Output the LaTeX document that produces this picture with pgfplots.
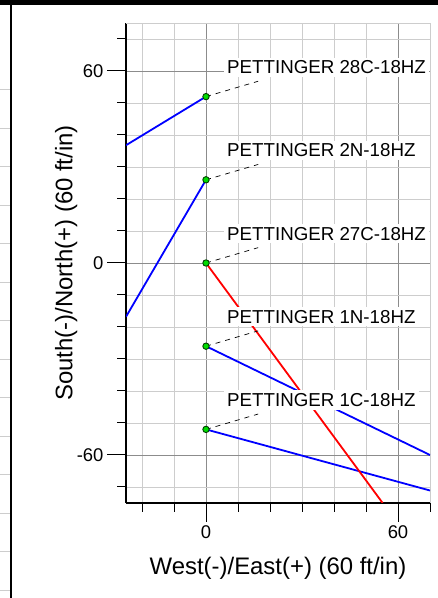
\documentclass[border=0pt]{standalone}
\usepackage{pgfplots}
\pgfplotsset{compat=1.18}
\usepackage{fontspec}
\setmainfont{Liberation Sans}
\definecolor{lineblue}{RGB}{0,0,255}
\definecolor{linered}{RGB}{255,0,0}
\definecolor{markgreen}{RGB}{0,220,0}
\definecolor{minorgrid}{RGB}{205,205,205}
\definecolor{majorgrid}{RGB}{140,140,140}
\begin{document}
\begin{tikzpicture}
\useasboundingbox (0,0) rectangle (438bp,598bp);
% sheet frame around the panel
\fill[black] (0,593bp) rectangle (438bp,598bp);
\draw[line width=2.2bp] (11bp,0) -- (11bp,598bp);
\foreach \y in {90,129,167,206,244,283,321,360,398,437,475,514,552,591}
  \draw[minorgrid, line width=1bp] (0,598bp-\y bp) -- (10bp,598bp-\y bp);
\begin{axis}[
  at={(126bp,95bp)}, anchor=south west,
  scale only axis, width=304bp, height=480bp,
  xmin=-25, xmax=70, ymin=-75, ymax=75,
  xtick={0,60}, xticklabels={0,60},
  ytick={-60,0,60}, yticklabels={-60,0,60},
  minor xtick={-20,-10,10,20,30,40,50,70},
  minor ytick={-70,-50,-40,-30,-20,-10,10,20,30,40,50,70},
  grid=both,
  major grid style={majorgrid, line width=0.8bp},
  minor grid style={minorgrid, line width=0.8bp},
  axis x line*=bottom, axis y line*=left,
  axis line style={black, line width=2bp},
  tick align=outside,
  major tick length=19bp, minor tick length=9bp,
  tick style={black, line width=1bp},
  ticklabel style={font=\fontsize{18.5}{22}\selectfont},
  xlabel={West(-)/East(+) (60 ft/in)},
  ylabel={South(-)/North(+) (60 ft/in)},
  label style={font=\fontsize{24}{28}\selectfont},
  xlabel style={at={(axis description cs:0.5,-0.137)}, anchor=center},
  ylabel style={at={(axis description cs:-0.197,0.5)}, anchor=center},
  every axis plot/.append style={line width=1.8bp},
]
% well labels (white boxes under the paths)
\addplot[draw=none, mark=none, point meta=explicit symbolic, nodes near coords,
  nodes near coords style={anchor=west, yshift=0pt, fill=white, inner sep=3bp,
    font=\fontsize{18.8}{22}\selectfont}]
  coordinates {(5.4,61.2) [PETTINGER 28C-18HZ] (5.4,35.2) [PETTINGER 2N-18HZ]
    (5.4,9.2) [PETTINGER 27C-18HZ] (5.4,-16.8) [PETTINGER 1N-18HZ]
    (5.4,-42.8) [PETTINGER 1C-18HZ]};
% well paths
\addplot[lineblue] coordinates {(-25,36.8) (0,52)};   % 28C
\addplot[lineblue] coordinates {(-25,-16.8) (0,26)};  % 2N
\addplot[lineblue] coordinates {(0,-26) (70,-60)};    % 1N
\addplot[lineblue] coordinates {(0,-52) (70,-71.1)};  % 1C
\addplot[linered] coordinates {(0,0) (55.2,-75)};     % 27C
% label leaders
\addplot[black, line width=0.7bp, dash pattern=on 5bp off 5bp] coordinates {(0,52) (16.3,56.8)};
\addplot[black, line width=0.7bp, dash pattern=on 5bp off 5bp] coordinates {(0,26) (16.3,30.8)};
\addplot[black, line width=0.7bp, dash pattern=on 5bp off 5bp] coordinates {(0,0) (16.3,4.8)};
\addplot[black, line width=0.7bp, dash pattern=on 5bp off 5bp] coordinates {(0,-26) (16.3,-21.2)};
\addplot[black, line width=0.7bp, dash pattern=on 5bp off 5bp] coordinates {(0,-52) (16.3,-47.2)};
% surface locations
\addplot[only marks, mark=*, mark size=3.2bp, mark options={fill=markgreen, draw=black!75!green, line width=0.9bp}]
  coordinates {(0,52) (0,26) (0,0) (0,-26) (0,-52)};
% top and right frame
\draw[minorgrid, line width=0.8bp] (rel axis cs:0,1) -- (rel axis cs:1,1) -- (rel axis cs:1,0);
\end{axis}
\end{tikzpicture}
\end{document}
